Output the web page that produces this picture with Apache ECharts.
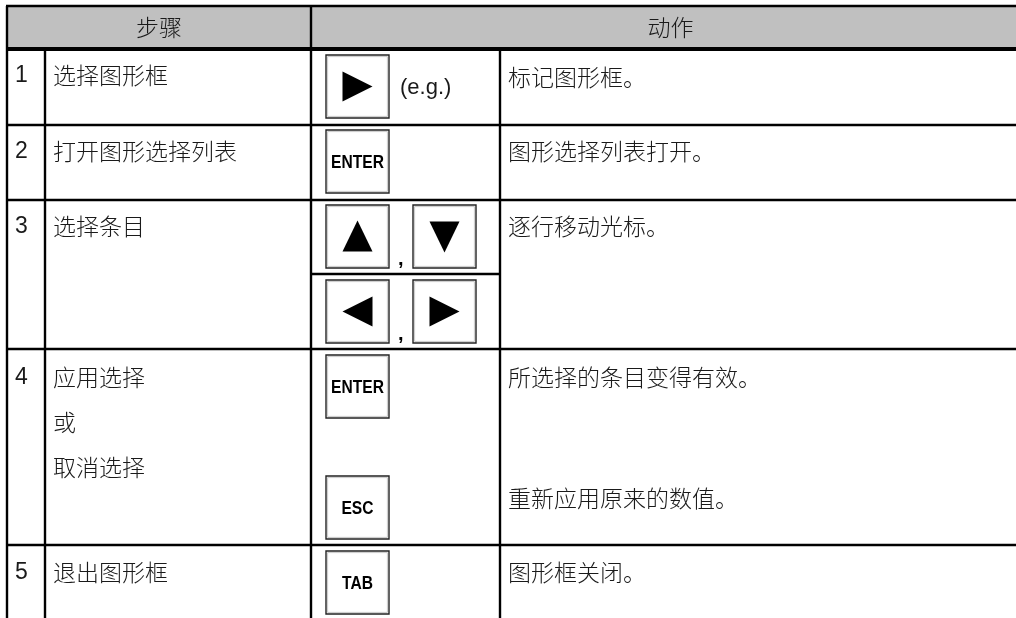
<!DOCTYPE html>
<html><head><meta charset="utf-8">
<script src="https://cdn.jsdelivr.net/npm/echarts@6/dist/echarts.min.js"></script>
<style>html,body{margin:0;padding:0;background:#fff}#c{width:1016px;height:618px}</style>
</head><body><div id="c"></div>
<script>
// ---- content ----
const headers = ['步骤', '动作'];
const stepNumbers = ['1', '2', '3', '4', '5'];
const stepTexts = [['选择图形框'], ['打开图形选择列表'], ['选择条目'], ['应用选择', '或', '取消选择'], ['退出图形框']];
const keyGroups = [[['right']], [['ENTER']], [['up', 'down'], ['left', 'right']], [['ENTER'], ['ESC']], [['TAB']]];
const keyNotes = ['(e.g.)', '', '', '', ''];
const actionTexts = [['标记图形框。'], ['图形选择列表打开。'], ['逐行移动光标。'], ['所选择的条目变得有效。', '重新应用原来的数值。'], ['图形框关闭。']];

// ---- layout (pixel-unit axes) ----
const L = {
  colX: [7, 45, 311, 500, 1030],
  top: 6, headBottom: 49,
  rowTops: [49, 125, 200, 349, 545],
  rowBottoms: [125, 200, 349, 545, 640],
  groupTops: [[55], [130], [205, 280], [355, 476], [551]],
  subDividers: [[], [], [274], [], []],
  stepLineY: [[75], [151], [226], [377, 422, 467], [572]],
  actionLineY: [[77], [151], [226], [377, 498], [572]],
  box: 63, boxX: 326, boxGap: 87
};
const CJK = '"Noto Sans CJK SC", sans-serif';
const LAT = '"Liberation Sans", Arial, sans-serif';
const TXT = '#1a1a1a';

function tri(dir, cx, cy, s) {
  const h = s / 2;
  if (dir === 'right') return [[cx - h, cy - h], [cx + h, cy], [cx - h, cy + h]];
  if (dir === 'left') return [[cx + h, cy - h], [cx - h, cy], [cx + h, cy + h]];
  if (dir === 'up') return [[cx, cy - h - 1], [cx + h, cy + h], [cx - h, cy + h]];
  return [[cx - h, cy - h], [cx + h, cy - h], [cx, cy + h + 1]];
}

function P(api, x, y) { return api.coord([x, y]); }

function line(api, x1, y1, x2, y2, w) {
  const a = P(api, x1, y1), b = P(api, x2, y2);
  return { type: 'line', shape: { x1: a[0], y1: a[1], x2: b[0], y2: b[1] }, style: { stroke: '#000', lineWidth: w || 2.4 } };
}
function text(api, x, y, t, opt) {
  const p = P(api, x, y);
  return {
    type: 'text', x: p[0], y: p[1], scaleX: opt.scaleX || 1,
    style: Object.assign({ text: t, fill: TXT, fontSize: 23, fontFamily: CJK, fontWeight: 300, align: 'left', verticalAlign: 'middle' }, opt.style || {})
  };
}

function keyBox(api, key, x, y) {
  const s = L.box;
  const p = P(api, x, y);
  const sz = api.size([s, s]);
  const w = sz[0], h = sz[1];
  const els = [{ type: 'rect', shape: { x: p[0], y: p[1], width: w, height: h }, style: { fill: '#fff', stroke: '#222', lineWidth: 1.4 } },
    { type: 'rect', shape: { x: p[0] + 1.6, y: p[1] + 1.6, width: w - 3.2, height: h - 3.2 }, style: { fill: 'none', stroke: '#bbb', lineWidth: 0.8 } }];
  const cx = p[0] + w / 2, cy = p[1] + h / 2;
  if (['right', 'left', 'up', 'down'].includes(key)) {
    els.push({ type: 'polygon', shape: { points: tri(key, cx, cy, 30) }, style: { fill: '#000' } });
  } else {
    els.push({ type: 'text', x: cx, y: cy + 1, scaleX: 0.82,
      style: { text: key, fill: '#000', fontSize: 19, fontWeight: 'bold', fontFamily: LAT, align: 'center', verticalAlign: 'middle' } });
  }
  return els;
}

function renderHeader(params, api) {
  const c = L.colX;
  const a = P(api, c[0], L.top), b = P(api, 1030, L.headBottom);
  const ch = [];
  ch.push({ type: 'rect', shape: { x: a[0], y: a[1], width: b[0] - a[0], height: b[1] - a[1] }, style: { fill: '#c0c0c0' } });
  ch.push(line(api, c[0] - 1, L.top, 1030, L.top, 2.4));
  ch.push(line(api, c[0] - 1, L.headBottom, 1030, L.headBottom, 4));
  ch.push(line(api, c[0], L.top, c[0], 640, 2.4));
  ch.push(line(api, c[2], L.top, c[2], 640, 2.4));
  const my = (L.top + L.headBottom) / 2;
  ch.push(text(api, (c[0] + c[2]) / 2, my, headers[0], { style: { align: 'center' } }));
  ch.push(text(api, (c[2] + c[4]) / 2, my, headers[1], { style: { align: 'center' } }));
  return { type: 'group', children: ch };
}

function renderRow(params, api) {
  const i = api.value(0);
  const c = L.colX;
  const ch = [];
  const top = L.rowTops[i], bot = L.rowBottoms[i];
  if (i > 0) ch.push(line(api, c[0] - 1, top, 1030, top));
  ch.push(line(api, c[1], top, c[1], bot));
  ch.push(line(api, c[3], top, c[3], bot));
  L.subDividers[i].forEach(y => ch.push(line(api, c[2], y, c[3], y)));
  ch.push(text(api, 15, L.stepLineY[i][0] + 1, stepNumbers[i], { style: { fontFamily: LAT, fontSize: 23, fontWeight: 'normal' } }));
  stepTexts[i].forEach((t, k) => ch.push(text(api, 53, L.stepLineY[i][k], t, {})));
  actionTexts[i].forEach((t, k) => ch.push(text(api, 508, L.actionLineY[i][k], t, {})));
  keyGroups[i].forEach((g, gi) => {
    const gy = L.groupTops[i][gi];
    g.forEach((key, ki) => {
      const x = L.boxX + ki * L.boxGap;
      keyBox(api, key, x, gy).forEach(e => ch.push(e));
      if (ki > 0) ch.push(text(api, 398, gy + L.box - 9, ',', { style: { fontFamily: LAT, fontSize: 20, fontWeight: 'bold', fill: '#000' } }));
    });
  });
  if (keyNotes[i]) ch.push(text(api, 400, L.groupTops[i][0] + L.box / 2 + 1, keyNotes[i], { style: { fontFamily: LAT, fontSize: 22, fontWeight: 'normal' } }));
  return { type: 'group', children: ch };
}

const chart = echarts.init(document.getElementById('c'), null, { renderer: 'canvas' });
chart.setOption({
  animation: false,
  backgroundColor: '#fff',
  grid: { left: 0, right: 0, top: 0, bottom: 0 },
  xAxis: { type: 'value', min: 0, max: 1016, show: false },
  yAxis: { type: 'value', min: 0, max: 618, inverse: true, show: false },
  series: [
    { type: 'custom', clip: false, silent: true, renderItem: renderRow, data: stepNumbers.map((n, i) => [i, 0]) },
    { type: 'custom', clip: false, silent: true, renderItem: renderHeader, data: [[0, 0]] }
  ]
});
</script></body></html>
